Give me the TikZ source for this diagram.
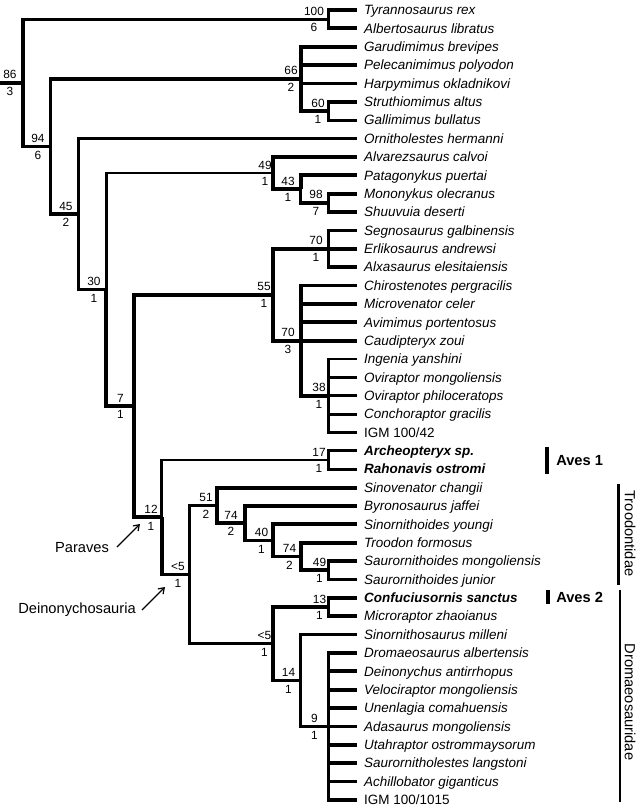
\documentclass[tikz,border=0pt]{standalone}
\usepackage{fontspec}
\setmainfont{Liberation Sans}
\usetikzlibrary{arrows.meta,calc}
\tikzset{
  br/.style={line width=2.5pt},
  brthin/.style={line width=2.1pt},
  brthick/.style={line width=2.9pt},
  taxon/.style={anchor=west, inner xsep=5.2pt, inner ysep=0pt, text height=7.1pt, text depth=0pt,
    font=\fontsize{10.1pt}{11pt}\selectfont\itshape},
  numlab/.style={inner sep=0pt, text height=6.3pt, text depth=0pt, font=\fontsize{8.9pt}{10pt}\selectfont},
  cladelab/.style={inner sep=0pt, font=\fontsize{11pt}{12pt}\selectfont},
  bracket/.style={line width=1.9pt},
  bracketthick/.style={line width=2.8pt},
  pointer/.style={line width=0.9pt, -{Straight Barb[length=4pt,width=5.5pt]}}
}
\newcommand\leaf[4][]{\node[taxon,#1] (#2) at (357,{10+18.37*#3}) {#4};}
\newcommand\clab[5]{%
  \node[numlab,anchor=base] (#1s) at (#2,{#3-4}) {#4};
  \node[numlab,anchor=north] (#1b) at (#2,{#3+4}) {#5};}
\begin{document}
\begin{tikzpicture}[x=0.75pt,y=-0.75pt]
\fill[white] (0,0) rectangle (643,809);
\useasboundingbox (0,0) rectangle (643,809);

% ---- leaves
\leaf{tyr}{0}{Tyrannosaurus rex}
\leaf{alb}{1}{Albertosaurus libratus}
\leaf{gar}{2}{Garudimimus brevipes}
\leaf{pel}{3}{Pelecanimimus polyodon}
\leaf{har}{4}{Harpymimus okladnikovi}
\leaf{str}{5}{Struthiomimus altus}
\leaf{gal}{6}{Gallimimus bullatus}
\leaf{orn}{7}{Ornitholestes hermanni}
\leaf{alv}{8}{Alvarezsaurus calvoi}
\leaf{pat}{9}{Patagonykus puertai}
\leaf{mon}{10}{Mononykus olecranus}
\leaf{shu}{11}{Shuuvuia deserti}
\leaf{seg}{12}{Segnosaurus galbinensis}
\leaf{erl}{13}{Erlikosaurus andrewsi}
\leaf{alx}{14}{Alxasaurus elesitaiensis}
\leaf{chi}{15}{Chirostenotes pergracilis}
\leaf{mic}{16}{Microvenator celer}
\leaf{avi}{17}{Avimimus portentosus}
\leaf{cau}{18}{Caudipteryx zoui}
\leaf{ing}{19}{Ingenia yanshini}
\leaf{ovm}{20}{Oviraptor mongoliensis}
\leaf{ovp}{21}{Oviraptor philoceratops}
\leaf{con}{22}{Conchoraptor gracilis}
\leaf[font=\fontsize{10.1pt}{11pt}\selectfont]{igma}{23}{IGM 100/42}
\leaf[font=\fontsize{10.1pt}{11pt}\selectfont\bfseries\itshape]{arc}{24}{Archeopteryx sp.}
\leaf[font=\fontsize{10.1pt}{11pt}\selectfont\bfseries\itshape]{rah}{25}{Rahonavis ostromi}
\leaf{sinv}{26}{Sinovenator changii}
\leaf{byr}{27}{Byronosaurus jaffei}
\leaf{sino}{28}{Sinornithoides youngi}
\leaf{tro}{29}{Troodon formosus}
\leaf{sam}{30}{Saurornithoides mongoliensis}
\leaf{saj}{31}{Saurornithoides junior}
\leaf[font=\fontsize{10.1pt}{11pt}\selectfont\bfseries\itshape]{cnf}{32}{Confuciusornis sanctus}
\leaf{mcr}{33}{Microraptor zhaoianus}
\leaf{snm}{34}{Sinornithosaurus milleni}
\leaf{dro}{35}{Dromaeosaurus albertensis}
\leaf{dei}{36}{Deinonychus antirrhopus}
\leaf{vel}{37}{Velociraptor mongoliensis}
\leaf{une}{38}{Unenlagia comahuensis}
\leaf{ada}{39}{Adasaurus mongoliensis}
\leaf{uta}{40}{Utahraptor ostrommaysorum}
\leaf{sal}{41}{Saurornitholestes langstoni}
\leaf{ach}{42}{Achillobator giganticus}
\leaf[font=\fontsize{10.1pt}{11pt}\selectfont]{igmb}{43}{IGM 100/1015}

% ---- internal nodes
\coordinate (r0)   at (0,82.84);
\coordinate (n86)  at (23,82.84);
\coordinate (n100) at (328.47,19.19);
\coordinate (n94)  at (50.77,146.48);
\coordinate (n66)  at (300.7,78.89);
\coordinate (n60)  at (328.47,111.04);
\coordinate (n45)  at (78.54,214.07);
\coordinate (n30)  at (106.31,289.54);
\coordinate (n49)  at (272.93,173.04);
\coordinate (n43)  at (300.7,189.11);
\coordinate (n98)  at (328.47,202.89);
\coordinate (n7)   at (134.08,406.04);
\coordinate (n55)  at (272.93,294.74);
\coordinate (n70t) at (328.47,248.81);
\coordinate (n70o) at (300.7,340.66);
\coordinate (n38)  at (328.47,395.77);
\coordinate (n12)  at (161.85,517.34);
\coordinate (n17)  at (328.47,460.07);
\coordinate (nD)   at (189.62,574.6);
\coordinate (n51)  at (217.39,505.42);
\coordinate (n74a) at (245.16,523.21);
\coordinate (n40)  at (272.93,540.44);
\coordinate (n74b) at (300.7,556.51);
\coordinate (n49b) at (328.47,570.29);
\coordinate (nDr)  at (272.93,643.77);
\coordinate (n13)  at (328.47,607.03);
\coordinate (n14)  at (300.7,680.51);
\coordinate (n9)   at (328.47,726.43);

% ---- branches
\draw[br] (r0) -- (n86);
\draw[br] (n86) |- (n100);
\draw[br] (n86) |- (n94);
\draw[brthick] (n100) |- (tyr.west);
\draw[brthick] (n100) |- (alb.west);
\draw[br] (n94) |- (n66);
\draw[br] (n94) |- (n45);
\foreach \t in {gar,pel,har} \draw[brthick] (n66) |- (\t.west);
\draw[brthick] (n66) |- (n60);
\draw[br] (n60) |- (str.west);
\draw[br] (n60) |- (gal.west);
\draw[br] (n45) |- (orn.west);
\draw[br] (n45) |- (n30);
\draw[brthin] (n30) |- (n49);
\draw[brthick] (n30) |- (n7);
\draw[brthick] (n49) |- (alv.west);
\draw[brthick] (n49) |- (n43);
\draw[brthick] (n43) |- (pat.west);
\draw[br] (n43) |- (n98);
\draw[brthick] (n98) |- (mon.west);
\draw[brthick] (n98) |- (shu.west);
\draw[brthick] (n7) |- (n55);
\draw[brthick] (n7) |- (n12);
\draw[brthick] (n55) |- (n70t);
\draw[brthick] (n55) |- (n70o);
\foreach \t in {seg,erl,alx} \draw[brthick] (n70t) |- (\t.west);
\foreach \t in {chi,mic,avi,cau} \draw[brthick] (n70o) |- (\t.west);
\draw[brthick] (n70o) |- (n38);
\foreach \t in {ing,ovm,ovp,con,igma} \draw[brthin] (n38) |- (\t.west);
\draw[brthin] (n12) |- (n17);
\draw[br] (n12) |- (nD);
\draw[brthin] (n17) |- (arc.west);
\draw[brthin] (n17) |- (rah.west);
\draw[br] (nD) |- (n51);
\draw[brthin] (nD) |- (nDr);
\draw[brthick] (n51) |- (sinv.west);
\draw[brthick] (n51) |- (n74a);
\draw[brthick] (n74a) |- (byr.west);
\draw[brthick] (n74a) |- (n40);
\draw[brthick] (n40) |- (sino.west);
\draw[brthick] (n40) |- (n74b);
\draw[brthick] (n74b) |- (tro.west);
\draw[brthick] (n74b) |- (n49b);
\draw[brthick] (n49b) |- (sam.west);
\draw[brthick] (n49b) |- (saj.west);
\draw[brthick] (nDr) |- (n13);
\draw[brthick] (nDr) |- (n14);
\draw[brthick] (n13) |- (cnf.west);
\draw[brthick] (n13) |- (mcr.west);
\draw[brthin] (n14) |- (snm.west);
\draw[br] (n14) |- (n9);
\foreach \t in {dro,dei,vel,une,ada,uta,sal,ach,igmb} \draw[brthick] (n9) |- (\t.west);

% ---- support values
\clab{l86}{10}{82.84}{86}{3}
\clab{l100}{314}{19.19}{100}{6}
\clab{l94}{38}{146.48}{94}{6}
\clab{l66}{291}{78.89}{66}{2}
\clab{l60}{318}{111.04}{60}{1}
\clab{l45}{66}{214.07}{45}{2}
\clab{l30}{94}{289.54}{30}{1}
\clab{l49}{265}{173.04}{49}{1}
\clab{l43}{288}{189.11}{43}{1}
\clab{l98}{316}{202.89}{98}{7}
\clab{l7}{120.5}{406.04}{7}{1}
\clab{l55}{264}{294.74}{55}{1}
\clab{l70t}{316}{248.81}{70}{1}
\clab{l70o}{288}{340.66}{70}{3}
\clab{l38}{319}{395.77}{38}{1}
\clab{l12}{151}{517.34}{12}{1}
\clab{l17}{319}{460.07}{17}{1}
\clab{lD}{178}{574.6}{<5}{1}
\clab{l51}{206}{505.42}{51}{2}
\clab{l74a}{231}{523.21}{74}{2}
\clab{l40}{261.5}{540.44}{40}{1}
\clab{l74b}{289.5}{556.51}{74}{2}
\clab{l49b}{319.5}{570.29}{49}{1}
\clab{lDr}{264.5}{643.77}{<5}{1}
\clab{l13}{319.5}{607.03}{13}{1}
\clab{l14}{288.5}{680.51}{14}{1}
\clab{l9}{314.5}{726.43}{9}{1}

% ---- clade names
\node[cladelab] (paraves) at (82,548) {Paraves};
\node[cladelab] (deino) at (77,610) {Deinonychosauria};
\coordinate (pa1) at (117,547);
\coordinate (pa2) at (140,524);
\coordinate (de1) at (142,610);
\coordinate (de2) at (165,587);
\draw[pointer] (pa1) -- (pa2);
\draw[pointer] (de1) -- (de2);

\coordinate (av1a) at (547,447);
\coordinate (av1b) at (547,474);
\draw[bracketthick] (av1a) -- (av1b);
\node[cladelab,font=\fontsize{11pt}{12pt}\selectfont\bfseries,anchor=west] (aves1) at (556,460.5) {Aves 1};
\coordinate (av2a) at (548,590);
\coordinate (av2b) at (548,604);
\draw[bracketthick] (av2a) -- (av2b);
\node[cladelab,font=\fontsize{11pt}{12pt}\selectfont\bfseries,anchor=west] (aves2) at (556,597.5) {Aves 2};

\coordinate (tra) at (618.5,484);
\coordinate (trb) at (618.5,585);
\draw[bracket] (tra) -- (trb);
\node[cladelab,rotate=-90] (troo) at (630,533.5) {Troodontidae};
\coordinate (dra) at (620,590);
\coordinate (drb) at (620,802);
\draw[bracket] (dra) -- (drb);
\node[cladelab,rotate=-90] (drom) at (630,702) {Dromaeosauridae};
\end{tikzpicture}
\end{document}
